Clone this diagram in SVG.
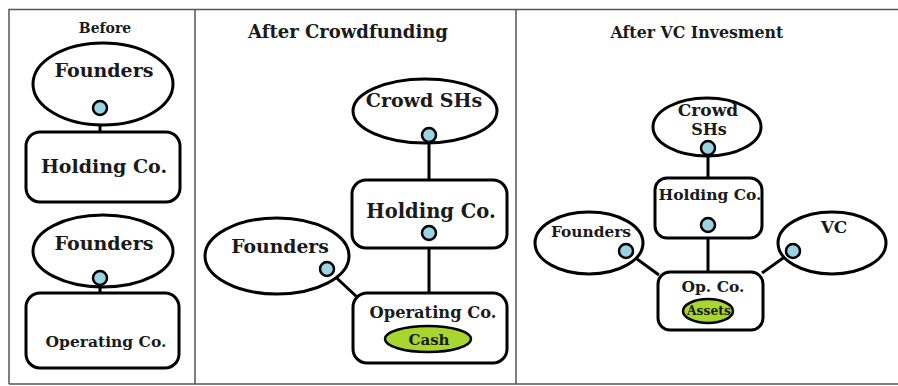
<svg xmlns="http://www.w3.org/2000/svg" width="898" height="386" viewBox="0 0 898 386">
<style>
.frame{stroke:#555;stroke-width:1.5;fill:none}
.sh{fill:#fff;stroke:#000;stroke-width:3}
.dot{fill:#9ad3e3;stroke:#000;stroke-width:2.5}
.grn{fill:#a9d62e;stroke:#000;stroke-width:2.5}
.ln{stroke:#000;stroke-width:3;fill:none}
text{font-family:"DejaVu Serif","Liberation Serif",serif;font-weight:bold;fill:#1a1a1a;text-anchor:middle}
</style>
<rect width="898" height="386" fill="#fff"/>
<g id="frame">
<path class="frame" d="M9,384 V9.5 H898 M9,384 H898 M195,9.5 V384 M516,9.5 V384"/>
</g>
<g id="titles">
<text x="105" y="33" font-size="14">Before</text>
<text x="348" y="38" font-size="18">After Crowdfunding</text>
<text x="697" y="38" font-size="15.8">After VC Invesment</text>
</g>
<g id="connectors">
<line class="ln" x1="100" y1="110" x2="100" y2="132"/>
<line class="ln" x1="100" y1="280" x2="100" y2="293"/>
<line class="ln" x1="429" y1="137" x2="429" y2="180"/>
<line class="ln" x1="429" y1="235" x2="429" y2="293"/>
<line class="ln" x1="327" y1="269" x2="357" y2="297"/>
<line class="ln" x1="708" y1="150" x2="708" y2="178"/>
<line class="ln" x1="708" y1="227" x2="708" y2="272"/>
<line class="ln" x1="626" y1="251" x2="659" y2="275"/>
<line class="ln" x1="793" y1="251" x2="762" y2="273"/>
</g>
<g id="p1-founders1">
<ellipse class="sh" cx="103" cy="84" rx="70" ry="41"/>
<text x="104" y="77" font-size="19">Founders</text>
</g>
<g id="p1-holding">
<rect class="sh" x="26" y="132" width="154" height="70" rx="14"/>
<text x="104" y="173" font-size="19">Holding Co.</text>
</g>
<g id="p1-founders2">
<ellipse class="sh" cx="103" cy="251" rx="70" ry="36"/>
<text x="104" y="250" font-size="19">Founders</text>
</g>
<g id="p1-operating">
<rect class="sh" x="26" y="293" width="153" height="75" rx="14"/>
<text x="106" y="347" font-size="15.5">Operating Co.</text>
</g>
<g id="p2-crowd">
<ellipse class="sh" cx="425" cy="111" rx="72" ry="32"/>
<text x="424" y="107" font-size="19">Crowd SHs</text>
</g>
<g id="p2-holding">
<rect class="sh" x="352" y="180" width="155" height="68" rx="14"/>
<text x="431" y="218" font-size="19.5">Holding Co.</text>
</g>
<g id="p2-founders">
<ellipse class="sh" cx="277" cy="256" rx="72" ry="38"/>
<text x="280" y="253" font-size="18.8">Founders</text>
</g>
<g id="p2-operating">
<rect class="sh" x="353" y="293" width="154" height="70" rx="14"/>
<text x="433" y="318" font-size="16.3">Operating Co.</text>
<ellipse class="grn" cx="428" cy="339" rx="43" ry="13"/>
<text x="429" y="345" font-size="15">Cash</text>
</g>
<g id="p3-crowd">
<ellipse class="sh" cx="707" cy="127" rx="54" ry="29"/>
<text x="708" y="116" font-size="17">Crowd</text>
<text x="709" y="135" font-size="16">SHs</text>
</g>
<g id="p3-holding">
<rect class="sh" x="655" y="178" width="107" height="60" rx="12"/>
<text x="710" y="200" font-size="15.5">Holding Co.</text>
</g>
<g id="p3-founders">
<ellipse class="sh" cx="589" cy="243" rx="54" ry="31"/>
<text x="591" y="237" font-size="15.4">Founders</text>
</g>
<g id="p3-vc">
<ellipse class="sh" cx="832" cy="243" rx="54" ry="31"/>
<text x="834" y="233" font-size="17">VC</text>
</g>
<g id="p3-opco">
<rect class="sh" x="658" y="272" width="105" height="58" rx="12"/>
<text x="713" y="292" font-size="15.5">Op. Co.</text>
<ellipse class="grn" cx="708" cy="311" rx="25" ry="12"/>
<text x="709" y="315" font-size="12.3">Assets</text>
</g>
<g id="dots">
<circle class="dot" cx="100" cy="108" r="7"/>
<circle class="dot" cx="100" cy="278" r="7"/>
<circle class="dot" cx="429" cy="135" r="7"/>
<circle class="dot" cx="429" cy="233" r="7"/>
<circle class="dot" cx="327" cy="269" r="7"/>
<circle class="dot" cx="708" cy="148" r="7"/>
<circle class="dot" cx="708" cy="225" r="7"/>
<circle class="dot" cx="626" cy="251" r="7"/>
<circle class="dot" cx="793" cy="251" r="7"/>
</g>
</svg>
